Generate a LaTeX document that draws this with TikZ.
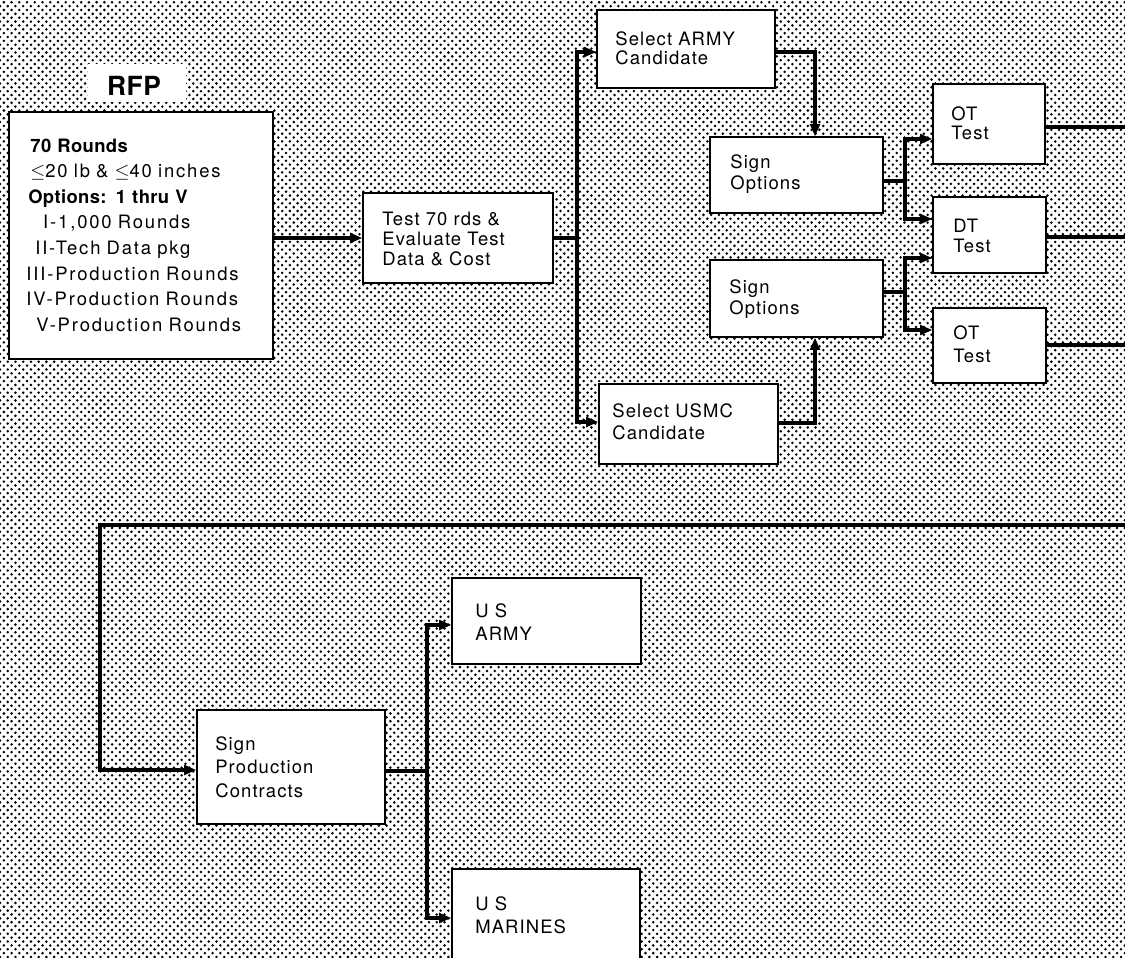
\documentclass[tikz,border=0pt]{standalone}
\usepackage{fontspec}
\setmainfont{TeX Gyre Heros}[LetterSpace=6]
\newfontfamily\rfpfont{TeX Gyre Heros}[LetterSpace=10]
\newfontfamily\rfpbf{TeX Gyre Heros}[LetterSpace=2]
\usetikzlibrary{arrows.meta,patterns,fit}

\pgfdeclarepatternformonly{halftone}{\pgfqpoint{-1pt}{-1pt}}{\pgfqpoint{5.4pt}{5.4pt}}{\pgfqpoint{4.4pt}{4.4pt}}{%
  \pgfpathcircle{\pgfqpoint{0pt}{0pt}}{0.8pt}%
  \pgfpathcircle{\pgfqpoint{2.2pt}{2.2pt}}{0.8pt}%
  \pgfusepath{fill}}

\begin{document}
\begin{tikzpicture}[x=0.02cm,y=-0.02cm,
  box/.style={draw, fill=white, line width=0.7pt, inner sep=0pt},
  txt/.style={anchor=base west, inner sep=0pt, text width=2.2cm, align=left,
              font=\fontsize{10.5}{#1}\selectfont},
  txt/.default=11.3pt,
  conn/.style={line width=1.9pt},
  arr/.style={line width=1.9pt, -{Triangle[length=7pt,width=5.5pt]}}]

\useasboundingbox (0,0) rectangle (1125,957);
\fill[white] (0,0) rectangle (1125,957);
\fill[pattern=halftone, pattern color=black] (0,0) rectangle (1125,957);

% RFP
\node (rfppatch) [fill=white, inner sep=0pt, fit={(88,64) (186,102)}] {};
\node (rfptitle) [anchor=base, inner sep=0pt, font=\rfpbf\fontsize{15}{17}\selectfont\bfseries] at (134,95) {RFP};
\node (rfp) [box, fit={(9,112) (273,359)}] {};
\node (rfpt) [txt=14.6pt, text width=4.8cm, font=\rfpfont\fontsize{10.5}{14.6}\selectfont] at (26,152) {%
\hspace*{2.3pt}{\rfpbf\bfseries 70 Rounds}\\
\hspace*{2.3pt}$\leq$20 lb \& $\leq$40 inches\\
\hspace*{1.1pt}{\rfpbf\bfseries Options: 1 thru V}\\
\hspace*{9.6pt}I-1,000 Rounds\\
\hspace*{5.1pt}II-Tech Data pkg\\
III-Production Rounds\\
IV-Production Rounds\\
\hspace*{5.7pt}V-Production Rounds};

% boxes
\node (test)   [box, fit={(363,193) (553,283)}] {};
\node (army)   [box, fit={(597,10) (775,88)}] {};
\node (usmc)   [box, fit={(599,384) (778,464)}] {};
\node (opt1)   [box, fit={(710,137) (883,213)}] {};
\node (opt2)   [box, fit={(710,260) (883,337)}] {};
\node (ot1)    [box, fit={(933,84) (1045,164)}] {};
\node (dt)     [box, fit={(933,197) (1046,273)}] {};
\node (ot2)    [box, fit={(933,308) (1046,383)}] {};
\node (prod)   [box, fit={(197,710) (385,824)}] {};
\node (usarmy) [box, fit={(452,578) (641,664)}] {};
\node (usmar)  [box, fit={(452,869) (640,962)}] {};

% texts
\node (testt)   [txt=11.6pt, text width=3.2cm] at (382,225) {Test 70 rds \&\\Evaluate Test\\Data \& Cost};
\node (armyt)   [txt=11.3pt, text width=3cm] at (615,45) {Select ARMY\\Candidate};
\node (usmct)   [txt=13pt, text width=3cm] at (612,417) {Select USMC\\Candidate};
\node (opt1t)   [txt=12.5pt] at (730,168) {Sign\\Options};
\node (opt2t)   [txt=12.5pt] at (729,293) {Sign\\Options};
\node (ot1t)    [txt=11.3pt, text width=1.5cm] at (951,120) {OT\\Test};
\node (dtt)     [txt=11.9pt, text width=1.5cm] at (953,232) {DT\\Test};
\node (ot2t)    [txt=13.6pt, text width=1.5cm] at (953,339) {OT\\Test};
\node (prodt)   [txt=13.6pt, text width=3cm] at (215,750) {Sign\\Production\\Contracts};
\node (usarmyt) [txt=13.6pt, text width=3cm] at (475,617) {U S\\ARMY};
\node (usmart)  [txt=13.6pt, text width=3cm] at (475,910) {U S\\MARINES};

% junctions and free ends
\coordinate (j1) at (577,238);
\coordinate (c815) at (815,0);
\coordinate (b1) at (905,181);
\coordinate (b2) at (905,292);
\coordinate (b3) at (427,771);
\coordinate (e1) at (1125,127);
\coordinate (e2) at (1125,237);
\coordinate (e3) at (1125,345);
\coordinate (e4) at (1125,525);
\coordinate (k1) at (100,525);

% connectors
\draw[arr] (rfp.east |- test.west) -- (test.west);
\draw[conn] (test.east |- j1) -- (j1);
\draw[arr] (j1) |- (army.west |- 0,52);
\draw[arr] (j1) |- (usmc.west |- 0,422);
\draw[arr] (army.east |- 0,52) -| (opt1.north -| c815);
\draw[arr] (usmc.east |- 0,423) -| (opt2.south -| c815);
\draw[conn] (opt1.east |- b1) -- (b1);
\draw[arr] (b1) |- (ot1.west |- 0,139);
\draw[arr] (b1) |- (dt.west |- 0,219);
\draw[conn] (opt2.east |- b2) -- (b2);
\draw[arr] (b2) |- (dt.west |- 0,258);
\draw[arr] (b2) |- (ot2.west |- 0,330);
\draw[conn] (ot1.east |- e1) -- (e1);
\draw[conn] (dt.east |- e2) -- (e2);
\draw[conn] (ot2.east |- e3) -- (e3);
\draw[arr] (e4) -- (k1) |- (prod.west |- 0,770);
\draw[conn] (prod.east |- b3) -- (b3);
\draw[arr] (b3) |- (usarmy.west |- 0,625);
\draw[arr] (b3) |- (usmar.west |- 0,918);
\end{tikzpicture}
\end{document}
